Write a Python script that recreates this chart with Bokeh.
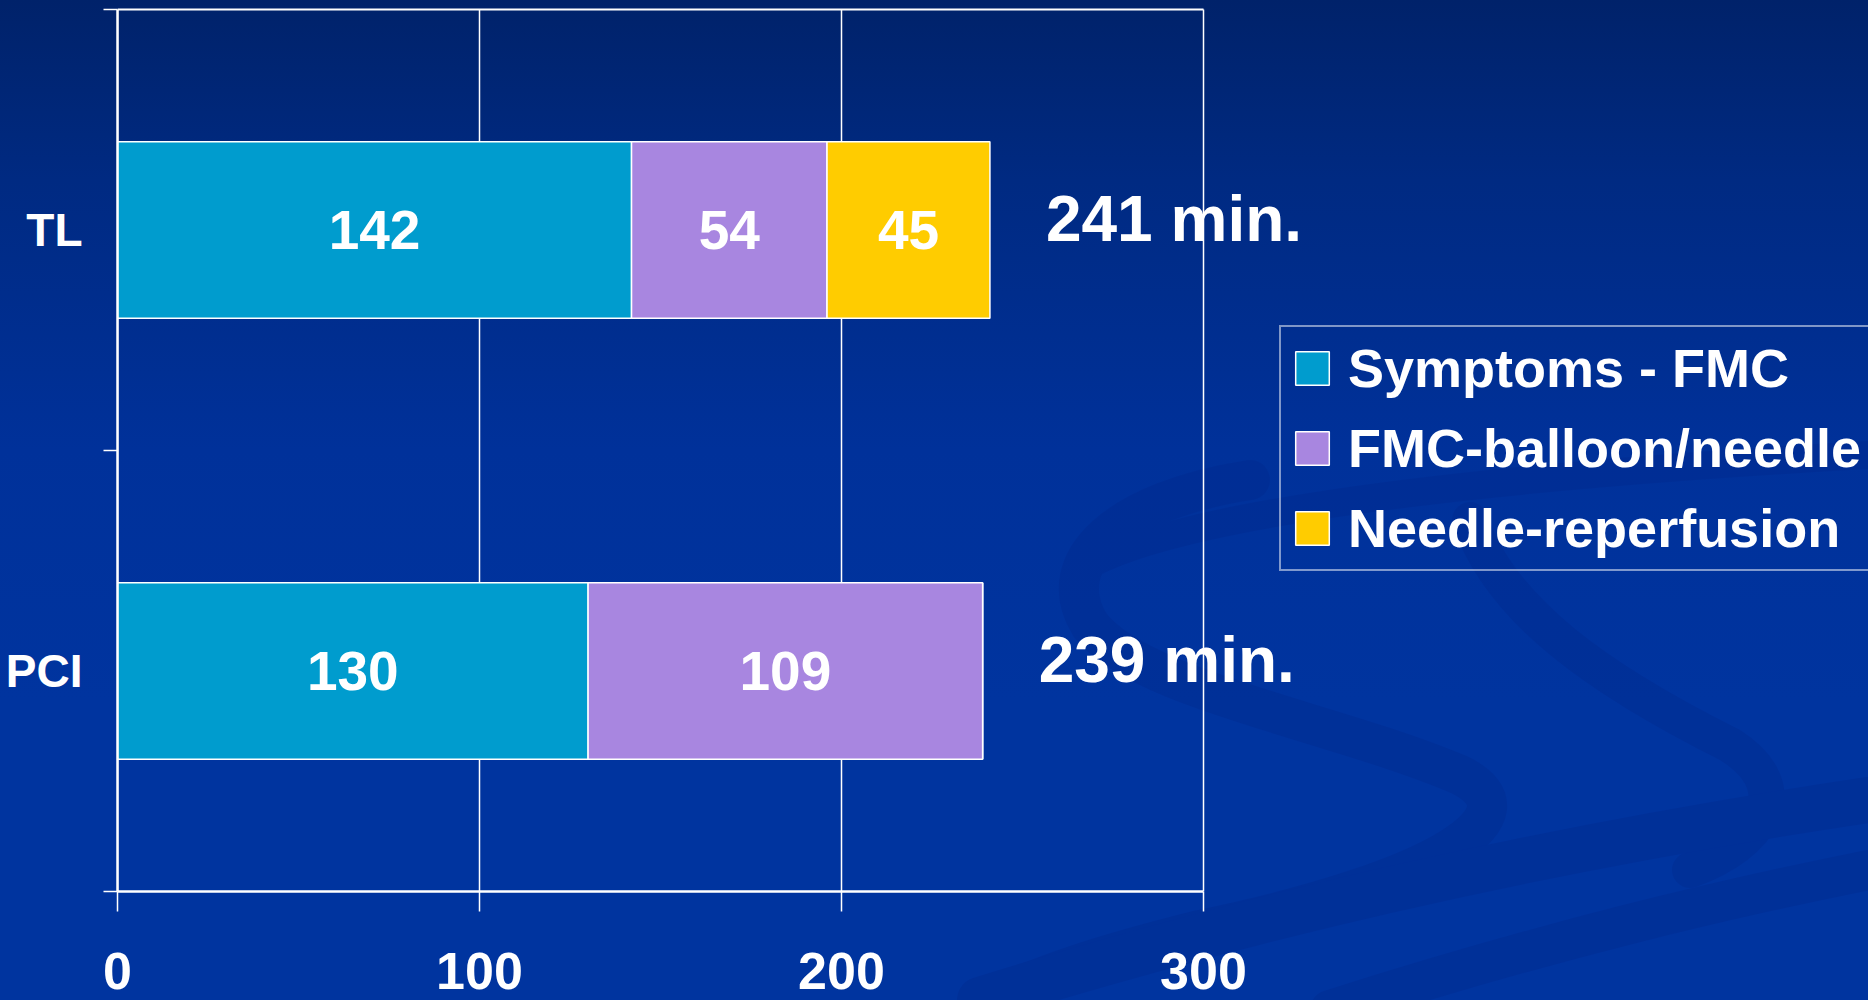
from urllib.parse import quote
from bokeh.plotting import figure
from bokeh.models import (ColumnDataSource, Range1d, FixedTicker, LinearAxis,
                          LabelSet, Legend)
from bokeh.core.properties import value
from bokeh.embed import file_html
from bokeh.resources import INLINE

# ---- data ----
categories = ["TL", "PCI"]
segments = ["Symptoms - FMC", "FMC-balloon/needle", "Needle-reperfusion"]
symptoms_fmc = [142, 130]
fmc_balloon_needle = [54, 109]
needle_reperfusion = [45, 0]
x_ticks = [0, 100, 200, 300]
colors = ["#009CCE", "#A886E0", "#FFCC00"]

FONT = "Liberation Sans"
W, H = 1868, 1000
LEFT, TOP, BOTTOM = 117, 9, 109          # page layout of the plot frame
AXIS_RIGHT_PX = 1203                     # where the value axis ends on the page

n = len(categories)
ypos = [n - i - 0.5 for i in range(n)]  # category centres on a 0..n scale
totals = [a + b + c for a, b, c in zip(symptoms_fmc, fmc_balloon_needle, needle_reperfusion)]
xmin, xmax = x_ticks[0], x_ticks[-1]

# frame spans to the page's right edge so the totals and the legend can sit there
x_end = xmin + (xmax - xmin) * (W - LEFT) / (AXIS_RIGHT_PX - LEFT)
frame_h = H - TOP - BOTTOM
y_end = n * (frame_h + TOP) / frame_h

src = ColumnDataSource(dict(
    y=ypos,
    s1=symptoms_fmc, s2=fmc_balloon_needle, s3=needle_reperfusion,
))

p = figure(width=W, height=H, output_backend="svg", toolbar_location=None,
           x_range=Range1d(xmin, x_end), y_range=Range1d(0, y_end),
           x_axis_location=None, y_axis_location=None,
           min_border_left=LEFT, min_border_right=0, min_border_top=0,
           min_border_bottom=BOTTOM)

p.background_fill_alpha = 0
p.border_fill_alpha = 0
p.outline_line_color = None
p.xgrid.grid_line_color = None
p.ygrid.grid_line_color = None

swirl = (
    "<svg xmlns='http://www.w3.org/2000/svg' width='1868' height='1000' viewBox='0 0 1868 1000'>"
    "<g fill='none' stroke='#00278a' stroke-linecap='round' opacity='0.3'>"
    "<path stroke-width='40' d='M1250 480 C1120 500 1050 560 1090 625 C1140 690 1330 720 1460 775 C1540 815 1440 880 1200 930 C1100 955 1040 975 990 1000'/>"
    "<path stroke-width='36' d='M1470 520 C1500 610 1600 680 1730 745 C1800 790 1760 845 1690 870'/>"
    "<path stroke-width='28' d='M1080 570 C1160 520 1420 480 1868 455'/>"
    "<path stroke-width='46' d='M980 1000 C1300 900 1600 840 1868 800'/>"
    "<path stroke-width='40' d='M1330 1010 C1550 940 1720 900 1868 870'/>"
    "</g></svg>"
)
p.styles = {
    "background": "url(\"data:image/svg+xml;utf8," + quote(swirl) + "\") no-repeat, "
                  "linear-gradient(180deg, #00226a 0%, #002a82 18%, #00319a 45%, #00349f 70%, #00349f 100%)"
}

# chart frame: vertical grid lines at the value ticks and the top border line
p.segment(x0=x_ticks, y0=[0] * len(x_ticks), x1=x_ticks, y1=[n] * len(x_ticks),
          line_color="white", line_width=1.5)
p.segment(x0=[xmin], y0=[n], x1=[xmax], y1=[n], line_color="white", line_width=2)

rs = p.hbar_stack(["s1", "s2", "s3"], y="y", height=0.4, source=src,
                  color=colors, line_color="white", line_width=1.5)

# segment value labels
lx, ly, lt = [], [], []
for i in range(n):
    start = 0
    for vals in (symptoms_fmc, fmc_balloon_needle, needle_reperfusion):
        v = vals[i]
        if v > 0:
            lx.append(start + v / 2)
            ly.append(ypos[i])
            lt.append(str(v))
        start += v
lsrc = ColumnDataSource(dict(x=lx, y=ly, t=lt))
p.text(x="x", y="y", text="t", source=lsrc, text_color="white",
       text_font=value(FONT), text_font_style="bold", text_font_size="55px",
       text_align="center", text_baseline="middle")

# totals
tsrc = ColumnDataSource(dict(x=totals, y=ypos, t=[f"{t} min." for t in totals]))
p.add_layout(LabelSet(x="x", y="y", text="t", source=tsrc, x_offset=56, y_offset=11,
                      text_color="white", text_font=value(FONT), text_font_style="bold",
                      text_font_size="64px", text_align="left", text_baseline="middle"))

# x axis
xa = LinearAxis(ticker=FixedTicker(ticks=x_ticks, minor_ticks=[]), bounds=(xmin, xmax))
xa.axis_line_color = "white"
xa.axis_line_width = 2.5
xa.major_tick_line_color = "white"
xa.major_tick_line_width = 1.5
xa.major_tick_out = 20
xa.major_tick_in = 0
xa.minor_tick_line_color = None
xa.major_label_standoff = 41
xa.major_label_text_color = "white"
xa.major_label_text_font = FONT
xa.major_label_text_font_style = "bold"
xa.major_label_text_font_size = "52px"
p.add_layout(xa, "below")

# y axis: labels at category centres, ticks at category boundaries
ya = LinearAxis(ticker=FixedTicker(ticks=ypos, minor_ticks=[float(k) for k in range(n + 1)]),
                bounds=(0, n))
ya.major_label_overrides = {y: c for y, c in zip(ypos, categories)}
ya.axis_line_color = "white"
ya.axis_line_width = 2.5
ya.major_tick_line_color = None
ya.major_tick_out = 0
ya.major_tick_in = 0
ya.minor_tick_line_color = "white"
ya.minor_tick_line_width = 1.5
ya.minor_tick_out = 14
ya.minor_tick_in = 0
ya.major_label_standoff = 21
ya.major_label_text_color = "white"
ya.major_label_text_font = FONT
ya.major_label_text_font_style = "bold"
ya.major_label_text_font_size = "46px"
p.add_layout(ya, "left")

legend = Legend(items=[(s, [r]) for s, r in zip(segments, rs)],
                location=(1162, 320))
legend.border_line_color = "white"
legend.border_line_width = 2.5
legend.background_fill_alpha = 0
legend.glyph_width = 42
legend.glyph_height = 42
legend.padding = 10
legend.spacing = 18
legend.margin = 0
legend.label_standoff = 15
legend.label_text_color = "white"
legend.label_text_font = FONT
legend.label_text_font_style = "bold"
legend.label_text_font_size = "54px"
p.add_layout(legend)

open("out.html", "w").write(file_html(p, INLINE))
